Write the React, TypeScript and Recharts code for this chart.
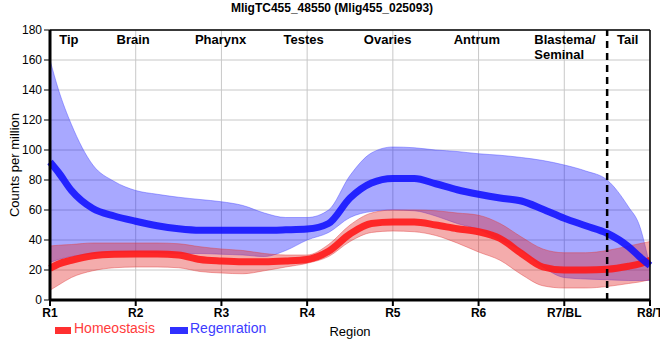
import {
  Area,
  CartesianGrid,
  ComposedChart,
  Line,
  ReferenceLine,
  XAxis,
  YAxis,
} from 'recharts';

const REGIONS = ['R1', 'R2', 'R3', 'R4', 'R5', 'R6', 'R7/BL', 'R8/T'];
const Y_TICKS = [0, 20, 40, 60, 80, 100, 120, 140, 160, 180];

// sample positions along the body axis (0 = R1 ... 7 = R8/T)
const X_POS = [
  0, 0.1, 0.25, 0.5, 0.75, 1, 1.25, 1.5, 1.75, 2, 2.25, 2.5, 2.75, 3, 3.25, 3.5, 3.75, 4, 4.25, 4.5,
  4.75, 5, 5.25, 5.5, 5.75, 6, 6.25, 6.5, 6.75, 6.875, 7,
];

const REGEN_MEAN = [
  92, 85, 73, 61, 56, 52.5, 49.5, 47.5, 46.5, 46.5, 46.5, 46.5, 46.8, 47.3, 51, 68, 78, 81, 81, 77.5,
  73.5, 70.5, 68, 66, 60.5, 54.5, 49.5, 44.5, 35.5, 29, 23,
];
const REGEN_HIGH = [
  160, 140, 117, 90, 79, 73, 70.5, 68.5, 67, 65.5, 63, 58, 55, 55, 60, 83, 98, 102, 101.5, 100, 99,
  97.5, 96.5, 95, 93, 90, 86, 80, 62, 50, 22,
];
const REGEN_LOW = [
  25, 27, 29, 31, 32, 32, 31.5, 31, 31, 30.5, 30, 29, 33, 40, 45, 55, 59, 60, 59.5, 56, 51, 47, 40,
  33, 22, 15, 14, 13.5, 13, 13, 13,
];

const HOMEO_MEAN = [
  21, 24, 26.5, 29.5, 30.5, 30.7, 30.7, 30, 27, 26, 25.5, 25.5, 26, 27, 32.5, 44, 51, 52, 52, 50,
  47.5, 45.5, 41, 31, 22, 20, 20, 20.5, 22.5, 24, 26.5,
];
const HOMEO_HIGH = [
  36, 36.5, 37, 38, 38, 38, 38, 37.5, 35.5, 34, 33, 31, 30, 30, 37, 50, 58, 60, 60, 59.5, 58, 56.5,
  51, 42, 34, 31.5, 31.5, 33, 36, 37.5, 39,
];
const HOMEO_LOW = [
  6.5, 10, 15, 19.5, 21.5, 22, 22, 21.5, 19, 18, 17.5, 19.5, 22, 24.5, 29, 39, 45, 46, 45.5, 43, 38,
  32, 26.5, 17, 9.5, 8, 8, 9, 11, 12, 13.5,
];

// tissue labels across the top; x = position on the region axis
const TISSUES = [
  { x: 0.22, lines: ['Tip'], anchor: 'middle' },
  { x: 0.97, lines: ['Brain'], anchor: 'middle' },
  { x: 1.99, lines: ['Pharynx'], anchor: 'middle' },
  { x: 2.96, lines: ['Testes'], anchor: 'middle' },
  { x: 3.94, lines: ['Ovaries'], anchor: 'middle' },
  { x: 4.98, lines: ['Antrum'], anchor: 'middle' },
  { x: 5.65, lines: ['Blastema/', 'Seminal'], anchor: 'start' },
  { x: 6.74, lines: ['Tail'], anchor: 'middle' },
];
const TAIL_CUT = 6.5;

const data = X_POS.map((x, i) => ({
  x,
  regen: REGEN_MEAN[i],
  regenBand: [REGEN_LOW[i], REGEN_HIGH[i]],
  homeo: HOMEO_MEAN[i],
  homeoBand: [HOMEO_LOW[i], HOMEO_HIGH[i]],
}));

const FONT = '"Liberation Sans", Arial, sans-serif';

function TissueLabel(props: any) {
  const { viewBox, lines, anchor } = props;
  if (!viewBox) return null;
  return (
    <text
      x={viewBox.x}
      y={viewBox.y + 14}
      textAnchor={anchor}
      fontSize={13}
      fontWeight="bold"
      fill="#000"
    >
      {lines.map((l: string, i: number) => (
        <tspan
          key={l}
          x={viewBox.x}
          dy={i === 0 ? 0 : 15}
        >
          {l}
        </tspan>
      ))}
    </text>
  );
}

function YLabel() {
  return (
    <text
      x={19}
      y={165}
      transform="rotate(-90, 19, 165)"
      textAnchor="middle"
      fontSize={13}
      fill="#000"
    >
      Counts per million
    </text>
  );
}

export default function App() {
  return (
    <div
      style={{
        position: 'absolute',
        left: 0,
        top: 0,
        width: 660,
        height: 360,
        background: '#fff',
        fontFamily: FONT,
      }}
    >
      <div
        style={{
          position: 'absolute',
          left: 2,
          top: 0,
          width: 660,
          textAlign: 'center',
          fontSize: 12,
          fontWeight: 'bold',
          lineHeight: '16px',
        }}
      >
        MligTC455_48550 (Mlig455_025093)
      </div>

      <ComposedChart
        width={660}
        height={360}
        data={data}
        margin={{ top: 30, right: 10, bottom: 0, left: 0 }}
      >
        <CartesianGrid stroke="#c8c8c8" />
        <XAxis
          dataKey="x"
          type="number"
          domain={[0, 7]}
          ticks={REGIONS.map((_, i) => i)}
          interval={0}
          tickFormatter={(v) => REGIONS[v] ?? ''}
          height={60}
          tick={{ fill: '#000', fontSize: 12, fontWeight: 'bold' }}
          tickLine={{ stroke: '#000', strokeWidth: 2 }}
          axisLine={{ stroke: '#000', strokeWidth: 3 }}
          label={{ value: 'Region', position: 'insideBottom', offset: 24, fill: '#000', fontSize: 13 }}
        />
        <YAxis
          type="number"
          domain={[0, 180]}
          ticks={Y_TICKS}
          interval={0}
          width={50}
          tick={{ fill: '#000', fontSize: 12 }}
          tickLine={{ stroke: '#000' }}
          axisLine={{ stroke: '#000', strokeWidth: 3 }}
          label={<YLabel />}
        />

        <Area
          dataKey="regenBand"
          type="monotone"
          fill="#0000ff"
          fillOpacity={0.34}
          stroke="#4a4aff"
          strokeOpacity={0.45}
          strokeWidth={1}
          isAnimationActive={false}
        />
        <Area
          dataKey="homeoBand"
          type="monotone"
          fill="#e32626"
          fillOpacity={0.38}
          stroke="#e04040"
          strokeOpacity={0.45}
          strokeWidth={1}
          isAnimationActive={false}
        />
        <Line
          dataKey="homeo"
          type="monotone"
          stroke="#ff1a1a"
          strokeOpacity={0.9}
          strokeWidth={7}
          dot={false}
          isAnimationActive={false}
        />
        <Line
          dataKey="regen"
          type="monotone"
          stroke="#1010ff"
          strokeOpacity={0.88}
          strokeWidth={7}
          dot={false}
          isAnimationActive={false}
        />

        <ReferenceLine
          x={TAIL_CUT}
          stroke="#000"
          strokeWidth={2.5}
          strokeDasharray="7 5"
        />
        <ReferenceLine
          y={180}
          stroke="#000"
          strokeWidth={1.5}
        />
        <ReferenceLine
          x={7}
          stroke="#000"
          strokeWidth={1.5}
        />
        {TISSUES.map((t) => (
          <ReferenceLine
            key={t.lines[0]}
            x={t.x}
            stroke="none"
            label={
              <TissueLabel
                lines={t.lines}
                anchor={t.anchor}
              />
            }
          />
        ))}
      </ComposedChart>

      <div style={{ position: 'absolute', left: 55, top: 327, width: 16, height: 7, background: '#ff3030' }} />
      <div
        style={{ position: 'absolute', left: 74, top: 320, fontSize: 14, lineHeight: '17px', color: '#ff3c3c' }}
      >
        Homeostasis
      </div>
      <div style={{ position: 'absolute', left: 170, top: 327, width: 18, height: 7, background: '#3030ff' }} />
      <div
        style={{ position: 'absolute', left: 190, top: 320, fontSize: 14, lineHeight: '17px', color: '#3c3cff' }}
      >
        Regenration
      </div>
    </div>
  );
}
